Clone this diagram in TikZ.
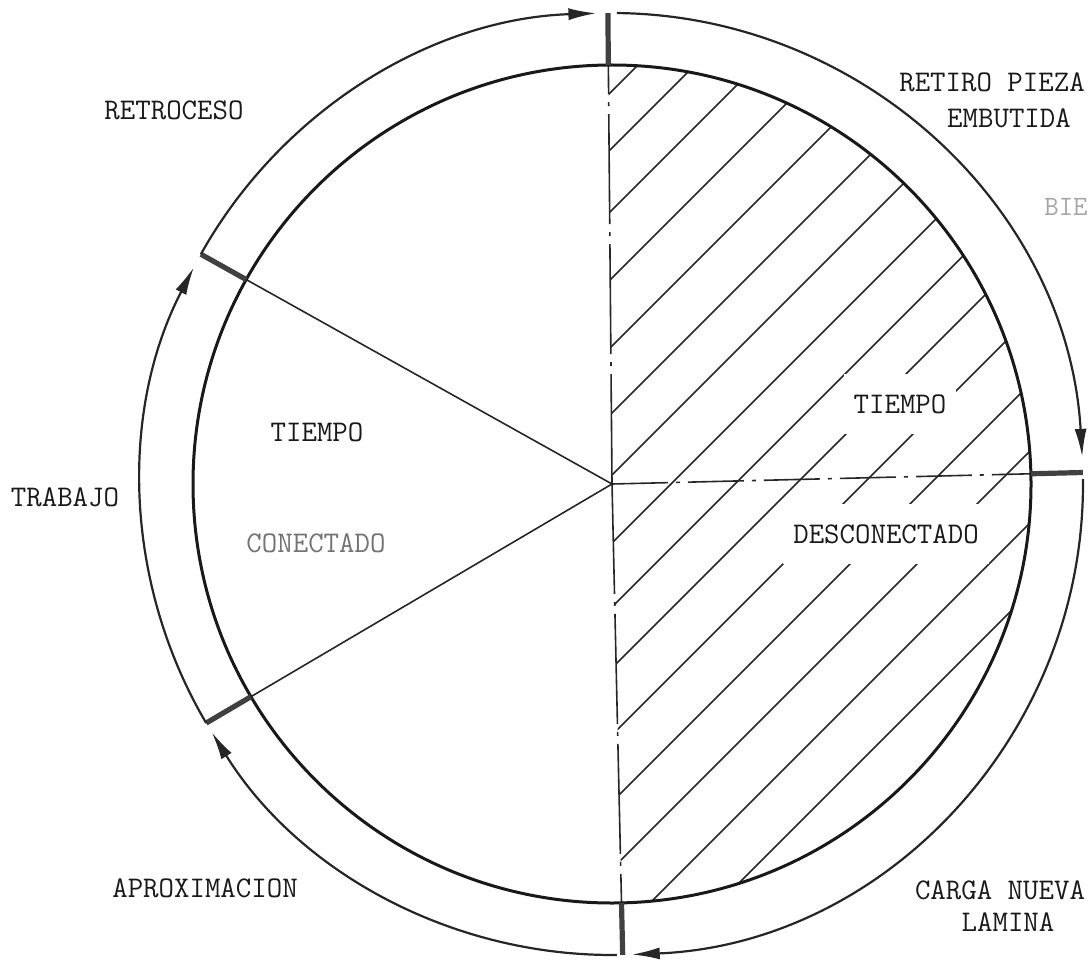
\documentclass[tikz,border=0pt]{standalone}
\usetikzlibrary{arrows.meta,calc}
\begin{document}
\begin{tikzpicture}[x=0.5pt,y=0.5pt,
  lbl/.style={font=\ttfamily\fontsize{15}{17}\selectfont, text=black!90, inner sep=0pt},
  gap/.style={lbl, fill=white, inner xsep=5pt, inner ysep=10pt},
  ring/.style={line width=1.1pt, draw=black!85},
  innerc/.style={line width=1.5pt, draw=black!90},
  radial/.style={line width=0.8pt, draw=black!85},
  dashh/.style={line width=0.8pt, draw=black!85, dash pattern=on 28pt off 4pt on 2pt off 4pt},
  dashv/.style={line width=0.8pt, draw=black!85, dash pattern=on 55pt off 4pt on 2pt off 4pt},
  tickmark/.style={line width=2.6pt, draw=black!75},
  hatch/.style={line width=0.75pt, draw=black!85},
  flow/.style={ring, -{Latex[length=14pt,width=6pt]}},
]
\useasboundingbox (0,0) rectangle (1090,960);
\coordinate (O) at (612,476);
% points on inner (r=419) and outer (r=471) circles
\foreach \n/\a in {T/90.5, R/1.4, B/-88.7, LL/210.5, UL/150.8}{
  \path (O) ++(\a:419) coordinate (i\n);
  \path (O) ++(\a:471) coordinate (o\n);
}
% hatching of the right half
\begin{scope}
  \clip (O) -- (iT) arc[start angle=90.5, end angle=-88.7, radius=419] -- cycle;
  \foreach \c in {703,760,822,890,958,1025,1087,1155,1219,1280,1347,1414,1481,1553,1622}{
    \draw[hatch] (560,{560+960-\c}) -- (1100,{1100+960-\c});
  }
\end{scope}
% labels in the hatched area (with gaps in the hatching)
\node[gap] (tr) at (900,556) {TIEMPO};
\node[gap] (dr) at (886,426) {DESCONECTADO};
% radial lines
\draw[dashv] (O) -- (iT);
\draw[dashv] (O) -- (iB);
\draw[dashh] (O) -- (iR);
\draw[radial] (O) -- (iUL);
\draw[radial] (O) -- (iLL);
% inner circle
\draw[innerc] (O) circle[radius=419];
% ticks
\foreach \n in {T,R,B,LL,UL}{
  \draw[tickmark] (i\n) -- (o\n);
}
% outer ring arcs with arrows (clockwise)
\draw[flow] (O) ++(150.8:471) arc[start angle=150.8, end angle=91.9, radius=471];
\draw[flow] (O) ++(89.4:471) arc[start angle=89.4, end angle=3.3, radius=471];
\draw[flow] (O) ++(0.6:471) arc[start angle=0.6, end angle=-87.6, radius=471];
\draw[flow] (O) ++(-89.4:471) arc[start angle=-89.4, end angle=-148.2, radius=471];
\draw[flow] (O) ++(210.5:471) arc[start angle=210.5, end angle=152.6, radius=471];
% labels
\node[lbl] (retro) at (174,850) {RETROCESO};
\node[lbl] (ret1) at (992,878) {RETIRO PIEZA};
\node[lbl] (ret2) at (1009,842) {EMBUTIDA};
\node[lbl, text=black!35, font=\ttfamily\fontsize{14}{16}\selectfont] (stamp) at (1066,753) {BIE};
\node[lbl] (tl) at (317,528) {TIEMPO};
\node[lbl, text=black!55] (cl) at (316,417) {CONECTADO};
\node[lbl] (trab) at (65,463) {TRABAJO};
\node[lbl] (aprox) at (205,72) {APROXIMACION};
\node[lbl] (carga1) at (1000,70) {CARGA NUEVA};
\node[lbl] (carga2) at (1008,38) {LAMINA};
\end{tikzpicture}
\end{document}
